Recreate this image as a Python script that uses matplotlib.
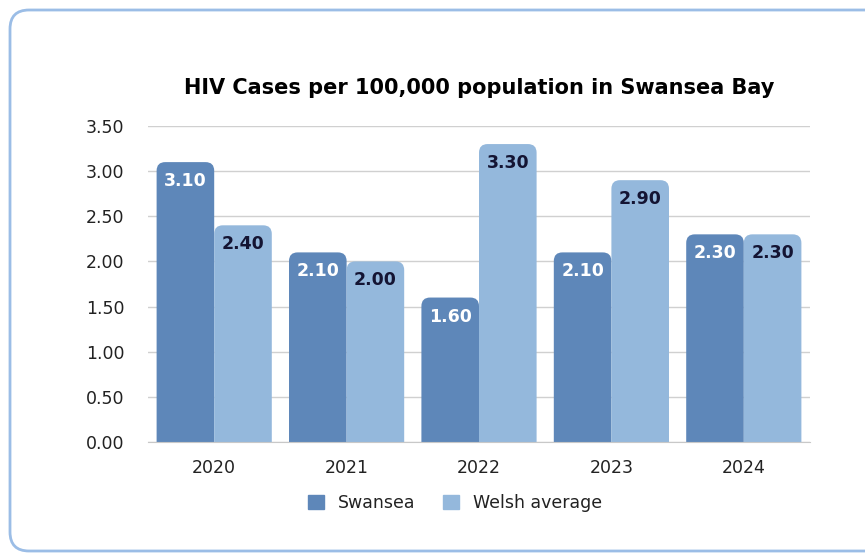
import matplotlib.pyplot as plt
import numpy as np
from matplotlib.patches import FancyBboxPatch

years = ['2020', '2021', '2022', '2023', '2024']
swansea = [3.10, 2.10, 1.60, 2.10, 2.30]
welsh = [2.40, 2.00, 3.30, 2.90, 2.30]

c_swansea = '#5e87b9'
c_welsh = '#94b8dc'

W, H = 865, 553
fig = plt.figure(figsize=(W / 100, H / 100), dpi=100)
plt.rcParams['font.family'] = ['DejaVu Sans']

# card border, only top-left part visible
border = FancyBboxPatch((10 / W, 2 / H), 900 / W, 541 / H,
                        boxstyle='round,pad=0,rounding_size=0.022',
                        mutation_aspect=W / H,
                        transform=fig.transFigure, fill=False,
                        edgecolor='#9bbde6', linewidth=2)
fig.patches.append(border)

ax = fig.add_axes([148 / W, 111 / H, 662 / W, 316 / H])
x = np.arange(len(years))
w = 0.435

# rounded tops: box extends below 0 and gets clipped by the axes
for vals, off, col, tcol in [(swansea, -w / 2, c_swansea, 'white'),
                             (welsh, w / 2, c_welsh, '#141433')]:
    for xi, v in zip(x, vals):
        p = FancyBboxPatch((xi + off - w / 2, -0.3), w, v + 0.3,
                           boxstyle='round,pad=0,rounding_size=0.065',
                           mutation_aspect=(3.5 / 316) / (5 / 662),
                           facecolor=col, edgecolor='none', zorder=3)
        ax.add_patch(p)
        ax.annotate(f'{v:.2f}', (xi + off, v), xytext=(0, -19),
                    textcoords='offset pixels',
                    ha='center', va='center', color=tcol,
                    fontsize=12.5, fontweight='bold', zorder=4)

ax.set_xlim(-0.5, 4.5)
ax.set_ylim(0, 3.5)
ticks = np.arange(0, 3.51, 0.5)
ax.set_yticks(ticks)
ax.set_yticklabels([f'{t:.2f}' for t in ticks])
ax.set_xticks(x)
ax.set_xticklabels(years)
ax.grid(axis='y', color='#d0d0d0', linewidth=1, zorder=0)
ax.set_axisbelow(True)
for s in ['top', 'right', 'left']:
    ax.spines[s].set_visible(False)
ax.spines['bottom'].set_color('#c8c8c8')
ax.spines['bottom'].set_zorder(5)
ax.tick_params(length=0, labelsize=12.5, labelcolor='#222222')
ax.tick_params(axis='x', pad=12)
ax.tick_params(axis='y', pad=17)

ax.set_title('HIV Cases per 100,000 population in Swansea Bay',
             fontsize=15, fontweight='bold', pad=23)

h1 = plt.Rectangle((0, 0), 1, 1, color=c_swansea)
h2 = plt.Rectangle((0, 0), 1, 1, color=c_welsh)
fig.legend([h1, h2], ['Swansea', 'Welsh average'], loc='center',
           bbox_to_anchor=(455 / W, 1 - 503 / H), ncol=2, frameon=False,
           fontsize=12.5, handlelength=0.9, handleheight=0.9,
           columnspacing=1.6, handletextpad=0.8, labelcolor='#222222')

fig.savefig('out.png', dpi=100)
